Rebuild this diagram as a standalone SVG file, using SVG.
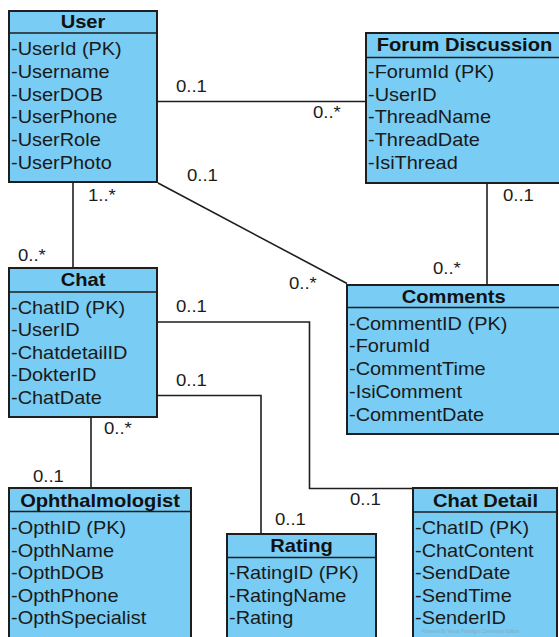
<svg xmlns="http://www.w3.org/2000/svg" width="559" height="637" viewBox="0 0 559 637">
<style>
.box{fill:#79CCF3;stroke:#1e1e1e;stroke-width:2}
.sep{stroke:#1e1e1e;stroke-width:1.6}
.hd{font-family:"Liberation Sans",Arial,sans-serif;font-weight:bold;font-size:17.5px;fill:#111;text-anchor:middle}
.at{font-family:"Liberation Sans",Arial,sans-serif;font-size:17.5px;fill:#1a1a1a}
.lb{font-family:"Liberation Sans",Arial,sans-serif;font-size:16px;fill:#1a1a1a}
.ln{fill:none;stroke:#1e1e1e;stroke-width:1.6}
.wm{font-family:"Liberation Sans",Arial,sans-serif;font-size:4.5px;fill:#8aa9bb}
</style>
<rect width="559" height="637" fill="#ffffff"/>
<g id="connectors">
<line class="ln" x1="157" y1="101.5" x2="366" y2="101.5"/>
<line class="ln" x1="158" y1="183" x2="347" y2="283.5"/>
<line class="ln" x1="73" y1="182" x2="73" y2="268"/>
<line class="ln" x1="487" y1="183" x2="487" y2="285"/>
<polyline class="ln" points="157,322 309.5,322 309.5,488.5 413,488.5"/>
<polyline class="ln" points="157,395.5 261,395.5 261,534"/>
<line class="ln" x1="91" y1="417" x2="91" y2="488"/>
<text class="lb" transform="translate(176,92) scale(1.16,1)">0..1</text>
<text class="lb" transform="translate(313,118) scale(1.16,1)">0..*</text>
<text class="lb" transform="translate(187,180.5) scale(1.16,1)">0..1</text>
<text class="lb" transform="translate(289,289) scale(1.16,1)">0..*</text>
<text class="lb" transform="translate(88,200.5) scale(1.16,1)">1..*</text>
<text class="lb" transform="translate(18,260.5) scale(1.16,1)">0..*</text>
<text class="lb" transform="translate(503,200.5) scale(1.16,1)">0..1</text>
<text class="lb" transform="translate(433,274) scale(1.16,1)">0..*</text>
<text class="lb" transform="translate(176,312) scale(1.16,1)">0..1</text>
<text class="lb" transform="translate(176,385.5) scale(1.16,1)">0..1</text>
<text class="lb" transform="translate(350,505) scale(1.16,1)">0..1</text>
<text class="lb" transform="translate(275,525) scale(1.16,1)">0..1</text>
<text class="lb" transform="translate(104,434) scale(1.16,1)">0..*</text>
<text class="lb" transform="translate(33,482) scale(1.16,1)">0..1</text>
</g>
<g id="user">
<rect class="box" x="9" y="11" width="148" height="171"/>
<line class="sep" x1="9" y1="33" x2="157" y2="33"/>
<text class="hd" transform="translate(83,28) scale(1.15,1)">User</text>
<text class="at" transform="translate(11,55) scale(1.14,1)">-UserId (PK)</text>
<text class="at" transform="translate(11,77.8) scale(1.14,1)">-Username</text>
<text class="at" transform="translate(11,100.6) scale(1.14,1)">-UserDOB</text>
<text class="at" transform="translate(11,123.4) scale(1.14,1)">-UserPhone</text>
<text class="at" transform="translate(11,146.2) scale(1.14,1)">-UserRole</text>
<text class="at" transform="translate(11,169) scale(1.14,1)">-UserPhoto</text>
</g>
<g id="forum">
<rect class="box" x="366" y="33" width="198" height="150"/>
<line class="sep" x1="366" y1="57.5" x2="564" y2="57.5"/>
<text class="hd" transform="translate(464.5,51) scale(1.15,1)">Forum Discussion</text>
<text class="at" transform="translate(368,78) scale(1.14,1)">-ForumId (PK)</text>
<text class="at" transform="translate(368,100.5) scale(1.14,1)">-UserID</text>
<text class="at" transform="translate(368,123) scale(1.14,1)">-ThreadName</text>
<text class="at" transform="translate(368,146) scale(1.14,1)">-ThreadDate</text>
<text class="at" transform="translate(368,168.5) scale(1.14,1)">-IsiThread</text>
</g>
<g id="chat">
<rect class="box" x="9" y="268" width="148" height="149"/>
<line class="sep" x1="9" y1="292" x2="157" y2="292"/>
<text class="hd" transform="translate(83,286) scale(1.15,1)">Chat</text>
<text class="at" transform="translate(11,313.5) scale(1.14,1)">-ChatID (PK)</text>
<text class="at" transform="translate(11,336) scale(1.14,1)">-UserID</text>
<text class="at" transform="translate(11,358.5) scale(1.14,1)">-ChatdetailID</text>
<text class="at" transform="translate(11,381) scale(1.14,1)">-DokterID</text>
<text class="at" transform="translate(11,403.5) scale(1.14,1)">-ChatDate</text>
</g>
<g id="comments">
<rect class="box" x="347" y="285" width="214" height="149"/>
<line class="sep" x1="347" y1="307.5" x2="561" y2="307.5"/>
<text class="hd" transform="translate(453.7,302.7) scale(1.15,1)">Comments</text>
<text class="at" transform="translate(349,329.5) scale(1.14,1)">-CommentID (PK)</text>
<text class="at" transform="translate(349,352) scale(1.14,1)">-ForumId</text>
<text class="at" transform="translate(349,375) scale(1.14,1)">-CommentTime</text>
<text class="at" transform="translate(349,398) scale(1.14,1)">-IsiComment</text>
<text class="at" transform="translate(349,421) scale(1.14,1)">-CommentDate</text>
</g>
<g id="ophthalmologist">
<rect class="box" x="9" y="488" width="182" height="160"/>
<line class="sep" x1="9" y1="511.5" x2="191" y2="511.5"/>
<text class="hd" transform="translate(100,506.7) scale(1.15,1)">Ophthalmologist</text>
<text class="at" transform="translate(11,534) scale(1.14,1)">-OpthID (PK)</text>
<text class="at" transform="translate(11,556.5) scale(1.14,1)">-OpthName</text>
<text class="at" transform="translate(11,579) scale(1.14,1)">-OpthDOB</text>
<text class="at" transform="translate(11,601.5) scale(1.14,1)">-OpthPhone</text>
<text class="at" transform="translate(11,624) scale(1.14,1)">-OpthSpecialist</text>
</g>
<g id="rating">
<rect class="box" x="227" y="534" width="149" height="114"/>
<line class="sep" x1="227" y1="557.5" x2="376" y2="557.5"/>
<text class="hd" transform="translate(301.5,551.7) scale(1.15,1)">Rating</text>
<text class="at" transform="translate(229,579) scale(1.14,1)">-RatingID (PK)</text>
<text class="at" transform="translate(229,601.5) scale(1.14,1)">-RatingName</text>
<text class="at" transform="translate(229,624) scale(1.14,1)">-Rating</text>
</g>
<g id="chatdetail">
<rect class="box" x="413" y="488" width="144" height="160"/>
<line class="sep" x1="413" y1="512" x2="557" y2="512"/>
<text class="hd" transform="translate(485.5,506.7) scale(1.15,1)">Chat Detail</text>
<text class="at" transform="translate(415,534) scale(1.14,1)">-ChatID (PK)</text>
<text class="at" transform="translate(415,556.5) scale(1.14,1)">-ChatContent</text>
<text class="at" transform="translate(415,579) scale(1.14,1)">-SendDate</text>
<text class="at" transform="translate(415,601.5) scale(1.14,1)">-SendTime</text>
<text class="at" transform="translate(415,624) scale(1.14,1)">-SenderID</text>
<text class="wm" x="422" y="633">Powered By Visual Paradigm Community Edition</text>
</g>
</svg>
